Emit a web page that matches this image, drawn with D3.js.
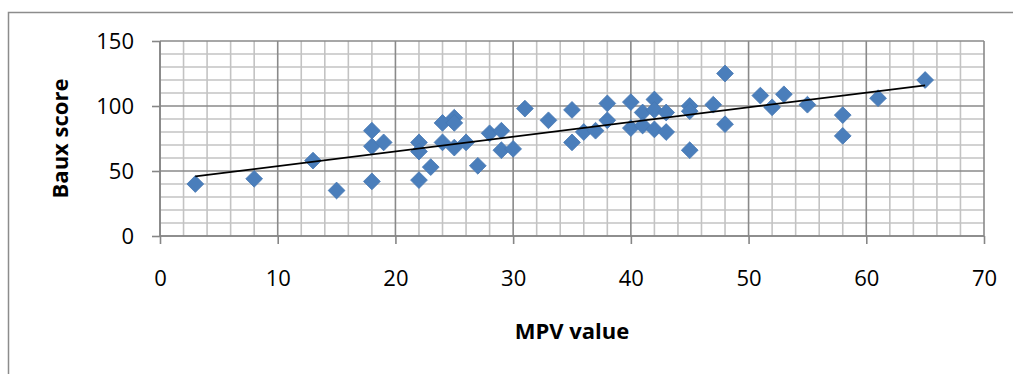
<!DOCTYPE html>
<html><head><meta charset="utf-8">
<script src="https://cdn.jsdelivr.net/npm/d3@7/dist/d3.min.js"></script>
<style>html,body{margin:0;padding:0;background:#fff;overflow:hidden}</style>
</head><body>
<svg id="c" width="1013" height="374"></svg>
<script>
const mpv = [3, 8, 13, 15, 18, 18, 18, 19, 22, 22, 22, 23, 24, 24, 25, 25, 25, 26, 27, 28, 29, 29, 30, 31, 33, 35, 35, 36, 37, 38, 38, 40, 40, 41, 41, 42, 42, 42, 43, 43, 45, 45, 45, 47, 48, 48, 51, 52, 53, 55, 58, 58, 61, 65];
const baux = [40, 44, 58, 35, 42, 81, 69, 72, 72, 65, 43, 53, 87, 72, 91, 87, 68, 72, 54, 79, 81, 66, 67, 98, 89, 97, 72, 80, 81, 102, 89, 103, 83, 95, 85, 105, 97, 82, 95, 80, 100, 96, 66, 101, 125, 86, 108, 99, 109, 101, 93, 77, 106, 120];
const xTicks = [0, 10, 20, 30, 40, 50, 60, 70];
const yTicks = [0, 50, 100, 150];
const xTitle = "MPV value";
const yTitle = "Baux score";

const svg = d3.select("#c");
const L = 160, R = 984, T = 41, B = 236;
const x = d3.scaleLinear().domain([0, 70]).range([L, R]);
const y = d3.scaleLinear().domain([0, 150]).range([B, T]);

// outer chart border
svg.append("rect").attr("x", 8.5).attr("y", 12.5).attr("width", 1030).attr("height", 400)
  .attr("fill", "none").attr("stroke", "#8c8c8c").attr("stroke-width", 1.5);

const minorX = d3.range(0, 71, 2), minorY = d3.range(0, 151, 10);
const g = svg.append("g");
g.selectAll(".mx").data(minorX.filter(v => v % 10 !== 0)).join("line")
  .attr("x1", d => x(d)).attr("x2", d => x(d)).attr("y1", T).attr("y2", B)
  .attr("stroke", "#c3c3c3").attr("stroke-width", 1.6);
g.selectAll(".my").data(minorY.filter(v => v % 50 !== 0)).join("line")
  .attr("y1", d => y(d)).attr("y2", d => y(d)).attr("x1", L).attr("x2", R)
  .attr("stroke", "#c3c3c3").attr("stroke-width", 1.6);
g.selectAll(".Mx").data(xTicks).join("line")
  .attr("x1", d => x(d)).attr("x2", d => x(d)).attr("y1", T).attr("y2", B)
  .attr("stroke", "#8a8a8a").attr("stroke-width", 1.6);
g.selectAll(".My").data(yTicks).join("line")
  .attr("y1", d => y(d)).attr("y2", d => y(d)).attr("x1", L).attr("x2", R)
  .attr("stroke", "#8a8a8a").attr("stroke-width", 1.6);

// axes
const xAxis = d3.axisBottom(x).tickValues(xTicks).tickSize(8).tickPadding(26).tickFormat(d3.format("d"));
const yAxis = d3.axisLeft(y).tickValues(yTicks).tickSize(8).tickPadding(18).tickFormat(d3.format("d"));
const gx = svg.append("g").attr("transform", `translate(0,${B})`).call(xAxis);
const gy = svg.append("g").attr("transform", `translate(${L},0)`).call(yAxis);
[gx, gy].forEach(a => {
  a.select(".domain").attr("stroke", "#868686").attr("stroke-width", 1.6);
  a.selectAll(".tick line").attr("stroke", "#868686").attr("stroke-width", 1.6);
  a.selectAll(".tick text").attr("fill", "#000").style("font-family", "'Open Sans'").style("font-size", "22px");
});
gx.select(".domain").attr("d", `M${L},0H${R}`);
gy.select(".domain").attr("d", `M0,${B}V${T}`);

// points
const pts = mpv.map((v, i) => [v, baux[i]]);
const diamond = d3.symbol().type(d3.symbolDiamond2).size(180);
svg.append("g").selectAll("path").data(pts).join("path")
  .attr("d", diamond)
  .attr("transform", d => `translate(${x(d[0])},${y(d[1])})`)
  .attr("fill", "#4a7ebb").attr("stroke", "#4677b3").attr("stroke-width", 0.8);

// linear trendline (least squares)
const mx = d3.mean(mpv), my = d3.mean(baux);
let sxy = 0, sxx = 0;
pts.forEach(([a, b]) => { sxy += (a - mx) * (b - my); sxx += (a - mx) * (a - mx); });
const slope = sxy / sxx, icpt = my - slope * mx;
const x0 = d3.min(mpv), x1 = d3.max(mpv);
svg.append("line").attr("x1", x(x0)).attr("y1", y(icpt + slope * x0))
  .attr("x2", x(x1)).attr("y2", y(icpt + slope * x1))
  .attr("stroke", "#000").attr("stroke-width", 1.8);

// titles
svg.append("text").attr("x", (L + R) / 2).attr("y", 339).attr("text-anchor", "middle")
  .style("font-family", "'Open Sans'").style("font-weight", "bold").style("font-size", "22px").text(xTitle);
svg.append("text").attr("transform", `translate(68,${(T + B) / 2}) rotate(-90)`).attr("text-anchor", "middle")
  .style("font-family", "'Open Sans'").style("font-weight", "bold").style("font-size", "22px").text(yTitle);
</script>
</body></html>
